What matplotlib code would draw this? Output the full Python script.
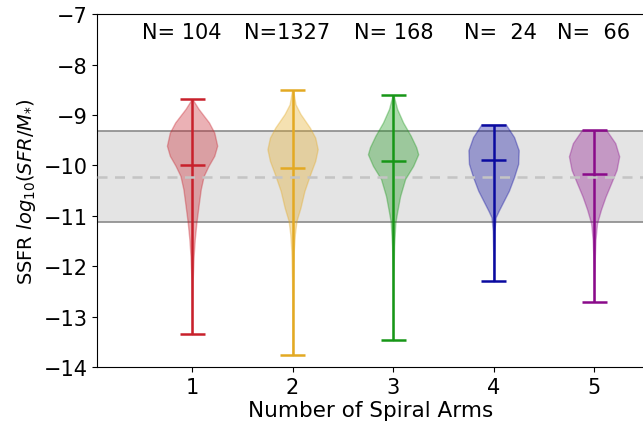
import numpy as np
import matplotlib
matplotlib.use("Agg")
import matplotlib.pyplot as plt

#%% Datos
arms = [1, 2, 3, 4, 5]
counts = [104, 1327, 168, 24, 66]
colors = ["#c8202b", "#e3a922", "#179617", "#0a0aa0", "#8a0a8a"]

means = [-9.99, -10.06, -9.92, -9.90, -10.17]
mins = [-13.35, -13.77, -13.47, -12.30, -12.70]
maxs = [-8.69, -8.51, -8.61, -9.19, -9.30]

# perfiles de densidad (y, anchura relativa) leidos a ojo
coords1 = [-13.35, -12.8, -12.3, -11.8, -11.46, -11.13, -10.80, -10.47, -10.21, -10.01, -9.81, -9.61, -9.35, -9.15, -8.88, -8.69]
vals1 = [0.1, 0.3, 0.6, 1.6, 2.8, 4.5, 6.7, 9.0, 12.0, 17.0, 23.0, 26.0, 23.0, 17.5, 6.7, 0.5]
coords2 = [-13.77, -13.0, -12.3, -11.7, -11.37, -11.10, -10.84, -10.51, -10.17, -9.91, -9.68, -9.45, -9.25, -8.98, -8.79, -8.51]
vals2 = [0.1, 0.2, 0.5, 1.2, 2.3, 4.0, 8.0, 12.0, 18.0, 23.0, 25.5, 23.0, 17.5, 8.0, 3.0, 0.5]
coords3 = [-13.47, -12.8, -12.2, -11.6, -11.13, -10.93, -10.61, -10.27, -10.01, -9.78, -9.64, -9.41, -9.15, -8.88, -8.61]
vals3 = [0.1, 0.2, 0.4, 1.0, 2.3, 4.0, 7.0, 12.0, 20.0, 25.0, 23.0, 17.5, 10.0, 4.0, 0.5]
coords4 = [-12.30, -11.8, -11.3, -11.03, -10.90, -10.70, -10.50, -10.23, -9.97, -9.70, -9.44, -9.19]
vals4 = [0.1, 0.3, 0.8, 2.0, 5.0, 10.0, 15.0, 20.0, 24.0, 24.5, 20.0, 12.0]
coords5 = [-12.70, -12.2, -11.8, -11.48, -11.15, -10.88, -10.62, -10.35, -10.09, -9.82, -9.56, -9.30]
vals5 = [0.1, 0.4, 0.8, 1.4, 3.0, 7.0, 11.7, 17.5, 23.0, 25.7, 21.7, 12.5]

band_low, band_high = -11.13, -9.32
band_mid = -10.23

#%% Plot
plt.rc('font', size=15)
fig = plt.figure(figsize=(6.43, 4.31), dpi=100)
ax = fig.add_axes([0.151, 0.146, 0.852, 0.819])

ax.axhspan(band_low, band_high, facecolor="#e4e4e4", edgecolor="none", zorder=0)
ax.axhline(band_low, color="#8a8a8a", lw=1.2, zorder=0.5)
ax.axhline(band_high, color="#8a8a8a", lw=1.2, zorder=0.5)

allCoords = [coords1, coords2, coords3, coords4, coords5]
allVals = [vals1, vals2, vals3, vals4, vals5]
vpstats = []
for i in range(len(arms)):
    vpstats.append({"coords": np.array(allCoords[i]), "vals": np.array(allVals[i]),
                    "mean": means[i], "median": means[i],
                    "min": mins[i], "max": maxs[i]})

parts = ax.violin(vpstats, positions=arms, widths=0.5, showmeans=True, showextrema=True)
for body, c in zip(parts["bodies"], colors):
    body.set_facecolor(c)
    body.set_edgecolor(c)
    body.set_alpha(0.35)
for key in ["cmins", "cmaxes", "cbars", "cmeans"]:
    parts[key].set_color(colors)
    parts[key].set_linewidth(1.8)

ax.axhline(band_mid, color="#c4c4c4", lw=1.8, linestyle=(0, (4, 3)), zorder=3)

label_x = [0.90, 1.945, 3.01, 4.07, 4.995]
for x, n in zip(label_x, counts):
    ax.text(x, -7.35, "N=%4d" % n, ha="center", va="center", fontsize=15)

ax.set_xlim(0.055, 5.506)
ax.set_ylim(-14, -7)
ax.set_xticks(arms)
ax.set_yticks(np.arange(-14, -6, 1))
ax.set_xlabel("Number of Spiral Arms", fontsize=15.5, labelpad=2)
ax.set_ylabel(r"SSFR $log_{10}(SFR/M_{*})$", fontsize=14)

fig.savefig("out.png", dpi=100)
